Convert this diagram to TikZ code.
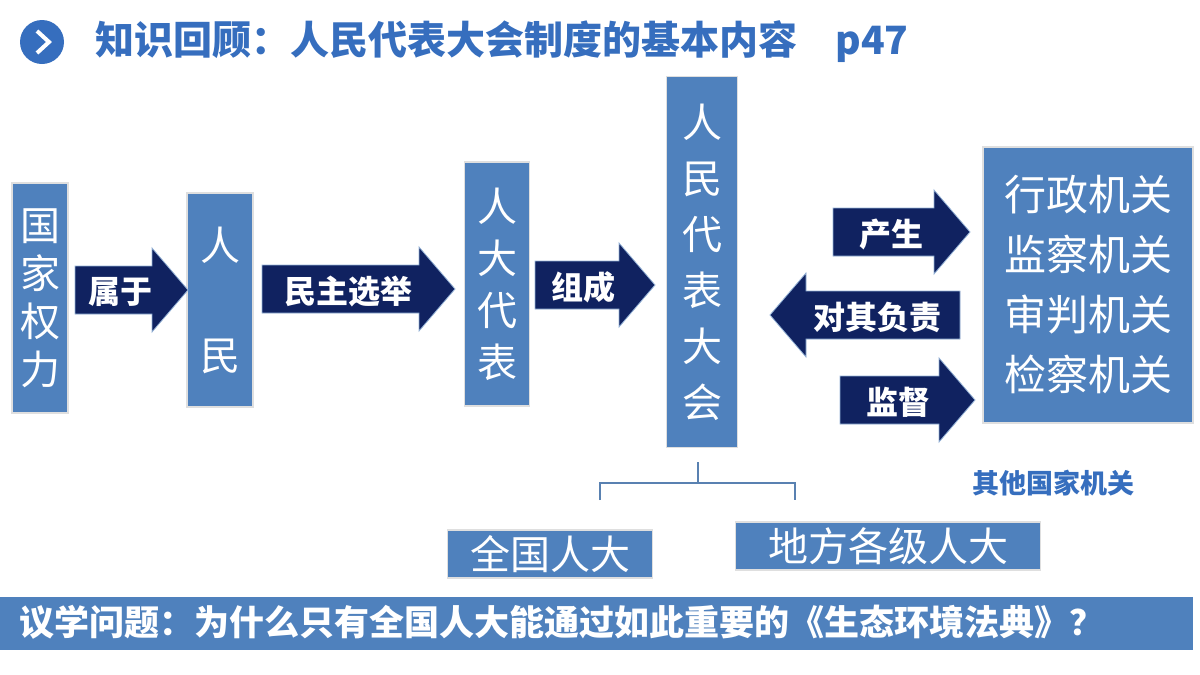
\documentclass[tikz,border=0pt]{standalone}
\usepackage{fontspec}
\setmainfont{Noto Sans CJK SC}
\usetikzlibrary{positioning}
\definecolor{boxblue}{RGB}{79,129,189}
\definecolor{titleblue}{RGB}{54,110,190}
\definecolor{navy}{RGB}{16,34,96}
\tikzset{
  bluebox/.style={fill=boxblue, draw=gray!25, line width=1.5pt, text=white, align=center, inner sep=0pt},
  arrowbody/.style={fill=navy, draw=boxblue!60, line width=0.8pt},
  arrowlabel/.style={text=white, font=\fontsize{32}{36}\selectfont\bfseries, inner sep=0pt},
  tree/.style={draw=boxblue!80!gray, line width=1.2pt}
}
% right arrow: tail x, tip x, centre y
\newcommand{\rightblock}[3]{\draw [arrowbody] (#1,#3-24) -- (#2-36,#3-24) -- (#2-36,#3-42) -- (#2,#3) -- (#2-36,#3+42) -- (#2-36,#3+24) -- (#1,#3+24) -- cycle;}
\newcommand{\leftblock}[3]{\draw [arrowbody] (#1,#3-24) -- (#2+36,#3-24) -- (#2+36,#3-42) -- (#2,#3) -- (#2+36,#3+42) -- (#2+36,#3+24) -- (#1,#3+24) -- cycle;}
\begin{document}
\begin{tikzpicture}[x=1pt, y=-1pt]
  \useasboundingbox (0,0) rectangle (1200,675);
  %% title
  \node (icon) [circle, fill=titleblue, minimum size=44pt] at (42,42) {};
  \draw [white, line width=4pt] (37,31) -- (49,42) -- (37,53);
  \node (title) [anchor=west, text=titleblue, font=\fontsize{39}{42}\selectfont\bfseries] at (92,42)
    {知识回顾：人民代表大会制度的基本内容\hspace{38pt}p47};
  %% boxes
  \node (power) [bluebox, minimum width=56pt, minimum height=230pt, font=\fontsize{40}{48}\selectfont] at (40,298) {国\\家\\权\\力};
  \node (people) [bluebox, minimum width=66pt, minimum height=214pt, font=\fontsize{40}{110}\selectfont] at (220,300) {人\\民};
  \node (deputy) [bluebox, minimum width=65pt, minimum height=244pt, font=\fontsize{40}{52}\selectfont] at (497,284) {人\\大\\代\\表};
  \node (npc) [bluebox, minimum width=71pt, minimum height=371pt, font=\fontsize{40}{56}\selectfont] at (702,262) {人\\民\\代\\表\\大\\会};
  \node (organs) [bluebox, minimum width=210pt, minimum height=276pt, font=\fontsize{42}{60}\selectfont] at (1088,285) {行政机关\\监察机关\\审判机关\\检察机关};
  \node (other) [text=titleblue, font=\fontsize{27}{30}\selectfont\bfseries] at (1053,483) {其他国家机关};
  %% arrows
  \rightblock{75}{188}{290}
  \node (belong) [arrowlabel] at (120,292) {属于};
  \rightblock{262}{455}{289}
  \node (elect) [arrowlabel] at (348,291) {民主选举};
  \rightblock{535}{655}{285}
  \node (form) [arrowlabel] at (583,287) {组成};
  \rightblock{833}{970}{232}
  \node (produce) [arrowlabel] at (891,234) {产生};
  \leftblock{960}{770}{315}
  \node (resp) [arrowlabel] at (877,317) {对其负责};
  \rightblock{840}{975}{400}
  \node (super) [arrowlabel] at (898,402) {监督};
  %% levels
  \node (national) [bluebox, minimum width=205pt, minimum height=48pt, font=\fontsize{40}{44}\selectfont] at (550,554) {全国人大};
  \node (local) [bluebox, minimum width=305pt, minimum height=48pt, font=\fontsize{40}{44}\selectfont] at (888,546) {地方各级人大};
  \coordinate (top) at (698,462);
  \coordinate (mid) at (698,483);
  \coordinate (lft) at (600,483);
  \coordinate (rgt) at (795,483);
  \draw [tree] (top) -- (mid);
  \draw [tree] (lft |- 500,500) -- (lft) -- (rgt) -- (rgt |- 500,500);
  %% question
  \node (question) [fill=boxblue, anchor=north west, minimum width=1193pt, minimum height=53pt, inner sep=0pt] at (0,597) {};
  \node (qtext) [anchor=west, text=white, font=\fontsize{35}{38}\selectfont\bfseries] at (16,622)
    {议学问题：为什么只有全国人大能通过如此重要的《生态环境法典》？};
\end{tikzpicture}
\end{document}
